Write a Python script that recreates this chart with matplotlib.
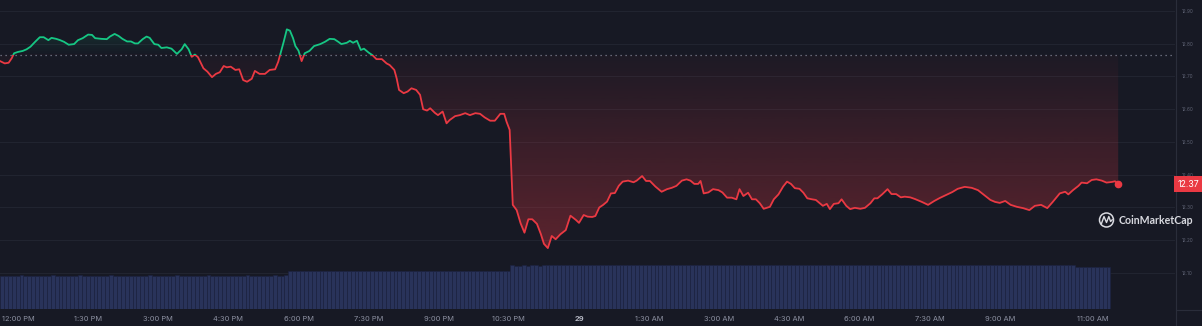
import numpy as np
import matplotlib
matplotlib.use("Agg")
import matplotlib.pyplot as plt
import matplotlib.transforms as mtrans
from matplotlib.patches import Rectangle, Circle
from matplotlib.lines import Line2D
from matplotlib.colors import to_rgb

# ---------------- data ----------------
# minutes relative to 12:00 PM of day 28
minutes = [-23, -17, -12, -8, -5, 0, 6, 11, 16, 22, 28, 33, 39, 43, 49, 54, 59, 65, 72, 77,
           83, 90, 95, 99, 107, 114, 118, 124, 129, 134, 140, 145, 150, 154, 160, 165, 169, 175, 180, 184,
           191, 197, 204, 210, 214, 219, 223, 227, 231, 238, 243, 249, 254, 259, 264, 268, 273, 279, 284, 289,
           294, 300, 304, 310, 317, 323, 330, 334, 337, 341, 345, 349, 353, 356, 360, 364, 368, 374, 380, 388,
           394, 400, 406, 411, 415, 422, 426, 430, 435, 440, 444, 450, 455, 460, 467, 473, 477, 483, 486, 489,
           495, 500, 505, 511, 516, 520, 525, 529, 535, 539, 545, 550, 554, 561, 567, 574, 580, 587, 593, 599,
           606, 612, 619, 624, 627, 631, 635, 640, 645, 650, 655, 660, 666, 671, 675, 680, 685, 690, 696, 703,
           709, 716, 720, 726, 731, 737, 741, 746, 751, 756, 761, 766, 771, 776, 783, 790, 794, 801, 806, 811,
           818, 826, 833, 839, 845, 852, 858, 863, 868, 873, 876, 880, 886, 892, 899, 904, 910, 916, 922, 926,
           931, 937, 942, 947, 952, 957, 965, 970, 976, 982, 987, 992, 997, 1003, 1008, 1013, 1019, 1024, 1029, 1033,
           1038, 1042, 1047, 1053, 1057, 1063, 1068, 1074, 1081, 1087, 1094, 1099, 1103, 1109, 1116, 1121, 1127, 1133, 1138, 1145,
           1151, 1160, 1168, 1176, 1183, 1191, 1199, 1206, 1215, 1224, 1232, 1240, 1248, 1254, 1260, 1267, 1274, 1282, 1290, 1298,
           1305, 1313, 1321, 1328, 1337, 1344, 1348, 1354, 1361, 1365, 1372, 1378, 1384, 1391, 1397, 1404, 1408, 1412]

price = [12.747, 12.740, 12.742, 12.756, 12.771, 12.775, 12.778, 12.783, 12.791, 12.806, 12.820, 12.820, 12.811, 12.818, 12.815, 12.811, 12.806, 12.797, 12.799, 12.811,
         12.817, 12.828, 12.827, 12.817, 12.815, 12.814, 12.822, 12.830, 12.824, 12.815, 12.807, 12.807, 12.801, 12.801, 12.814, 12.822, 12.818, 12.799, 12.797, 12.787,
         12.789, 12.785, 12.769, 12.783, 12.799, 12.783, 12.760, 12.767, 12.759, 12.725, 12.715, 12.698, 12.708, 12.713, 12.732, 12.728, 12.730, 12.720, 12.722, 12.689,
         12.684, 12.693, 12.717, 12.708, 12.708, 12.720, 12.722, 12.745, 12.771, 12.806, 12.844, 12.840, 12.817, 12.793, 12.779, 12.747, 12.771, 12.778, 12.793, 12.799,
         12.806, 12.815, 12.814, 12.806, 12.799, 12.803, 12.809, 12.803, 12.809, 12.781, 12.785, 12.773, 12.765, 12.753, 12.753, 12.740, 12.735, 12.720, 12.694, 12.659,
         12.649, 12.654, 12.664, 12.659, 12.644, 12.600, 12.596, 12.603, 12.589, 12.582, 12.593, 12.557, 12.567, 12.579, 12.582, 12.588, 12.582, 12.588, 12.586, 12.575,
         12.565, 12.565, 12.586, 12.586, 12.562, 12.537, 12.308, 12.292, 12.252, 12.223, 12.264, 12.264, 12.250, 12.219, 12.189, 12.176, 12.213, 12.203, 12.218, 12.231,
         12.275, 12.262, 12.253, 12.277, 12.272, 12.271, 12.274, 12.300, 12.308, 12.318, 12.343, 12.344, 12.366, 12.379, 12.382, 12.377, 12.382, 12.396, 12.381, 12.381,
         12.364, 12.348, 12.356, 12.360, 12.366, 12.382, 12.386, 12.382, 12.372, 12.372, 12.381, 12.343, 12.346, 12.356, 12.353, 12.346, 12.330, 12.330, 12.325, 12.356,
         12.335, 12.345, 12.325, 12.325, 12.313, 12.296, 12.302, 12.325, 12.340, 12.364, 12.379, 12.372, 12.359, 12.357, 12.345, 12.328, 12.325, 12.323, 12.313, 12.305,
         12.311, 12.295, 12.311, 12.313, 12.325, 12.305, 12.295, 12.299, 12.296, 12.299, 12.313, 12.328, 12.328, 12.340, 12.356, 12.341, 12.341, 12.331, 12.333, 12.331,
         12.326, 12.317, 12.308, 12.320, 12.329, 12.338, 12.347, 12.357, 12.363, 12.360, 12.353, 12.338, 12.323, 12.317, 12.314, 12.320, 12.308, 12.302, 12.298, 12.292,
         12.305, 12.308, 12.298, 12.317, 12.343, 12.348, 12.340, 12.353, 12.366, 12.376, 12.374, 12.384, 12.386, 12.382, 12.376, 12.378, 12.380, 12.371]

baseline_price = 12.766

# 5-minute volume bars (arbitrary units), starting at the first minute above
volume = [
    75, 75, 74, 75, 75, 76, 75, 75, 75, 74, 75, 75,
    75, 76, 75, 75, 74, 75, 75, 75, 76, 75, 75, 75,
    74, 75, 75, 75, 76, 75, 75, 75, 75, 74, 75, 75,
    75, 75, 76, 75, 75, 75, 74, 75, 75, 76, 75, 75,
    75, 74, 75, 75, 75, 76, 75, 75, 75, 75, 74, 75,
    75, 75, 75, 76, 75, 75, 75, 74, 75, 75, 76, 75,
    75, 76, 85, 85, 85, 86, 85, 85, 85, 86, 85, 85,
    85, 85, 86, 85, 85, 85, 86, 85, 85, 86, 85, 86,
    86, 85, 86, 86, 85, 86, 86, 86, 85, 86, 86, 86,
    86, 86, 86, 87, 86, 86, 86, 87, 86, 86, 87, 86,
    86, 87, 87, 86, 87, 87, 87, 86, 87, 87, 87, 99,
    98, 98, 99, 98, 99, 99, 98, 99, 99, 99, 99, 99,
    99, 99, 100, 99, 99, 99, 100, 99, 99, 99, 99, 100,
    99, 99, 99, 100, 99, 99, 99, 99, 100, 99, 99, 99,
    100, 99, 99, 99, 99, 100, 100, 99, 99, 99, 100, 99,
    99, 100, 99, 99, 100, 99, 99, 99, 100, 99, 99, 99,
    99, 99, 100, 99, 99, 99, 99, 100, 99, 99, 99, 99,
    99, 100, 99, 99, 99, 99, 100, 99, 99, 99, 99, 99,
    100, 99, 99, 99, 99, 99, 100, 99, 99, 99, 99, 99,
    99, 99, 99, 100, 99, 99, 99, 99, 99, 100, 99, 99,
    99, 99, 99, 99, 100, 99, 99, 99, 99, 99, 99, 100,
    99, 99, 99, 99, 99, 99, 99, 99, 100, 99, 99, 99,
    99, 99, 99, 99, 99, 99, 99, 99, 99, 99, 99, 99,
    96, 95, 95, 96, 95, 95, 95, 95, 95]
vol_start_minute = -23
vol_step_minutes = 5

price_ticks = [12.10, 12.20, 12.30, 12.40, 12.50, 12.60, 12.70, 12.80, 12.90]
time_ticks = [0, 90, 180, 270, 360, 450, 540, 630, 720, 810, 900, 990, 1080, 1170, 1260, 1380]
time_labels = ["12:00 PM", "1:30 PM", "3:00 PM", "4:30 PM", "6:00 PM", "7:30 PM", "9:00 PM",
               "10:30 PM", "29", "1:30 AM", "3:00 AM", "4:30 AM", "6:00 AM", "7:30 AM",
               "9:00 AM", "11:00 AM"]

# ---------------- style ----------------
BG = "#171924"
GREEN = "#16c784"
RED = "#ea3943"
GRID = "#212430"
W, H = 1202, 326
plt.rcParams["font.family"] = ["Inter", "DejaVu Sans"]

fig = plt.figure(figsize=(W / 100, H / 100), dpi=100, facecolor=BG)
ax = fig.add_axes([0, 17 / H, 1175 / W, 309 / H])
ax.set_facecolor(BG)
xmin, xmax = -23.1, 1484.9
ymin, ymax = 11.990, 12.9336

t = np.array(minutes, dtype=float)
p = np.array(price, dtype=float)

# volume bars on a twin axis (created first so ax keeps right-side ticks)
ax2 = ax.twinx()
vol_t = vol_start_minute + vol_step_minutes * np.arange(len(volume))
ax2.bar(vol_t, volume, width=vol_step_minutes, align="edge", color="#29335a",
        edgecolor="#1c2240", linewidth=0.45, zorder=1)
ax2.set_ylim(0, 700)
ax2.set_xlim(xmin, xmax)
ax2.set_yticks([])
for s in ax2.spines.values():
    s.set_visible(False)

# grid
for v in price_ticks:
    ax.axhline(v, color=GRID, lw=0.8, zorder=0)

# baseline
ax.axhline(baseline_price, color="#7d8192", lw=0.9, ls=(0, (1, 3)), zorder=2)

# gradient fills clipped to area between price and baseline
poly = ax.fill_between(t, p, baseline_price, facecolor="none", edgecolor="none")
clip_path = poly.get_paths()[0]

def grad(color, a_bottom, a_top, n=256):
    arr = np.zeros((n, 1, 4))
    arr[:, 0, :3] = to_rgb(color)
    arr[:, 0, 3] = np.linspace(a_bottom, a_top, n)
    return arr

red_img = ax.imshow(grad(RED, 0.42, 0.03), extent=[xmin, xmax, ymin, baseline_price],
                    origin="lower", aspect="auto", interpolation="bilinear", zorder=1)
red_img.set_clip_path(clip_path, ax.transData)
green_img = ax.imshow(grad(GREEN, 0.0, 0.30), extent=[xmin, xmax, baseline_price, ymax],
                      origin="lower", aspect="auto", interpolation="bilinear", zorder=1)
green_img.set_clip_path(clip_path, ax.transData)

# price line, green above baseline, red below
above = Rectangle((xmin, baseline_price), xmax - xmin, ymax - baseline_price, transform=ax.transData)
below = Rectangle((xmin, ymin), xmax - xmin, baseline_price - ymin, transform=ax.transData)
lg, = ax.plot(t, p, color=GREEN, lw=1.3, zorder=3, solid_joinstyle="round")
lg.set_clip_path(above)
lr, = ax.plot(t, p, color=RED, lw=1.3, zorder=3, solid_joinstyle="round")
lr.set_clip_path(below)
ax.plot(t[-1], p[-1], "o", ms=4.5, color=RED, zorder=4)

ax.set_xlim(xmin, xmax)
ax.set_ylim(ymin, ymax)

# axes styling
for s in ax.spines.values():
    s.set_visible(False)
ax.yaxis.tick_right()
ax.set_yticks(price_ticks)
ax.set_yticklabels([f"{v:.2f}" for v in price_ticks])
ax.tick_params(axis="y", which="both", left=False, right=False, labelleft=False, labelright=True,
               length=0, pad=5.0, labelsize=3.4, labelcolor="#5d6172")
ax.set_xticks(time_ticks)
ax.set_xticklabels(time_labels)
ax.tick_params(axis="x", length=0, pad=5.0, labelsize=5.4, labelcolor="#8b8fa0")
for lab in ax.get_xticklabels():
    if lab.get_text() == "29":
        lab.set_fontweight("bold")
        lab.set_color("#b5b8c4")

# right price scale separator
fig.add_artist(Line2D([1175.5, 1175.5], [0, H], transform=mtrans.IdentityTransform(),
                      color="#2a2d3a", lw=0.8))
fig.add_artist(Line2D([1175.5, W], [H - 310, H - 310], transform=mtrans.IdentityTransform(),
                      color="#2a2d3a", lw=0.8))

# last price badge
btrans = mtrans.blended_transform_factory(fig.transFigure, ax.transData)
fig.text(1188.5 / W, p[-1], f"{p[-1]:.2f}", transform=btrans, ha="center", va="center",
         fontsize=6.3, color="white",
         bbox=dict(boxstyle="square,pad=0.42", fc=RED, ec="none"))

# watermark
fig.text(1119 / W, 1 - 220 / H, "CoinMarketCap", ha="left", va="center", fontsize=7.6,
         fontweight="bold", color="#d9dae0", family=["Lato", "DejaVu Sans"])
fig.add_artist(Circle((1106.5, H - 220), 7.0, transform=mtrans.IdentityTransform(),
                      fill=False, ec="#d9dae0", lw=1.1))
fig.add_artist(Line2D([1101.5, 1104, 1106.5, 1108.8, 1110.6, 1112.2],
                      [H - 223.5, H - 216.5, H - 222.5, H - 216.5, H - 221.5, H - 219.8],
                      transform=mtrans.IdentityTransform(), color="#d9dae0", lw=1.0))

fig.savefig("out.png", dpi=100, facecolor=BG)
